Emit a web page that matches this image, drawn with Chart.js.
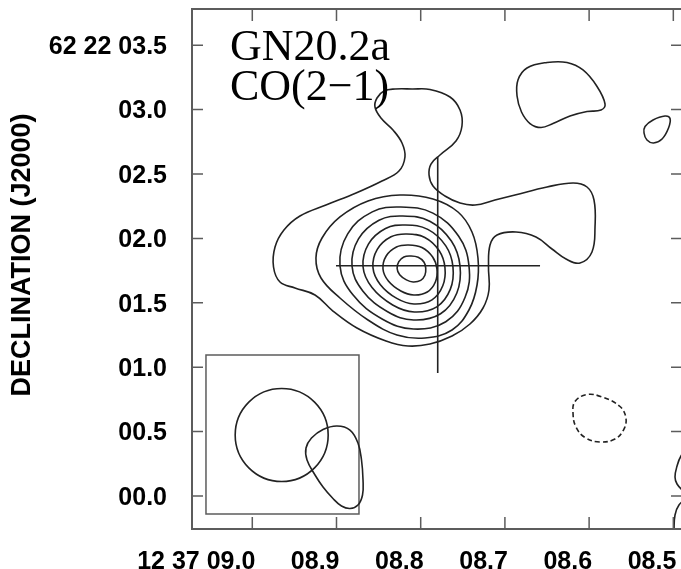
<!DOCTYPE html>
<html>
<head>
<meta charset="utf-8">
<script src="https://cdn.jsdelivr.net/npm/chart.js@4"></script>
<style>
  html, body { margin: 0; padding: 0; background: #fff; overflow: hidden; }
  canvas { display: block; }
</style>
</head>
<body>
<canvas id="map" width="690" height="569"></canvas>
<script>
// axis ticks (RA in seconds of 12h37m, Dec in arcsec of +62d22m)
const raTicks = [9.0, 8.9, 8.8, 8.7, 8.6, 8.5];
const raLabels = ['12 37 09.0', '08.9', '08.8', '08.7', '08.6', '08.5'];
const decTicks = [0, 0.5, 1, 1.5, 2, 2.5, 3, 3.5];
const decLabels = ['00.0', '00.5', '01.0', '01.5', '02.0', '02.5', '03.0', '62 22 03.5'];
const raRange = [8.4897, 9.0716];
const decRange = [-0.2562, 3.7811];

// contours, [ra, dec]
const contourOuter = [
  [8.8436, 3.1444], [8.8305, 3.1599], [8.8103, 3.1599], [8.7890, 3.1561], [8.7652, 3.0978],
  [8.7533, 2.9969], [8.7510, 2.8727], [8.7581, 2.7562], [8.7771, 2.6475], [8.7878, 2.5776],
  [8.7901, 2.4922], [8.7854, 2.4068], [8.7712, 2.3292], [8.7533, 2.2749], [8.7355, 2.2593],
  [8.7118, 2.2981], [8.6880, 2.3370], [8.6500, 2.3991], [8.6191, 2.4301], [8.6025, 2.3991],
  [8.5942, 2.2981], [8.5930, 2.0885], [8.5966, 1.8944], [8.6108, 1.8090], [8.6274, 1.8401],
  [8.6441, 1.9177], [8.6631, 2.0109], [8.6868, 2.0497], [8.7094, 2.0264], [8.7177, 1.9488],
  [8.7195, 1.7780], [8.7189, 1.5994], [8.7260, 1.4596], [8.7415, 1.3354], [8.7628, 1.2422],
  [8.7890, 1.1801], [8.8151, 1.1646], [8.8412, 1.2034], [8.8757, 1.3044], [8.9042, 1.4363],
  [8.9255, 1.5606], [8.9493, 1.6149], [8.9671, 1.6615], [8.9748, 1.7780], [8.9730, 1.9332],
  [8.9624, 2.0652], [8.9434, 2.1739], [8.9125, 2.2593], [8.8768, 2.3525], [8.8460, 2.4457],
  [8.8258, 2.5233], [8.8187, 2.6320], [8.8222, 2.7407], [8.8329, 2.8416], [8.8472, 2.9348],
  [8.8543, 3.0202], [8.8519, 3.0901]
];
const contour2 = [
  [8.9244, 1.8478], [8.9172, 2.0031], [8.8959, 2.1662], [8.8626, 2.2904], [8.8246, 2.3370],
  [8.7854, 2.3059], [8.7557, 2.2050], [8.7391, 2.0497], [8.7320, 1.8478], [8.7331, 1.6382],
  [8.7427, 1.4441], [8.7628, 1.2888], [8.7949, 1.2267], [8.8282, 1.2500], [8.8626, 1.3665],
  [8.8959, 1.5373], [8.9184, 1.6925]
];
const contour3 = [
  [8.8959, 1.7888], [8.8867, 2.0357], [8.8575, 2.2058], [8.8239, 2.2438], [8.7855, 2.1964],
  [8.7549, 2.0163], [8.7427, 1.7888], [8.7473, 1.5427], [8.7702, 1.3533], [8.8086, 1.2966],
  [8.8453, 1.3727], [8.8805, 1.5621]
];
const contour4 = [
  [8.8816, 1.7865], [8.8739, 1.9961], [8.8495, 2.1413], [8.8213, 2.1739], [8.7892, 2.1335],
  [8.7636, 1.9798], [8.7533, 1.7865], [8.7571, 1.5761], [8.7764, 1.4146], [8.8084, 1.3665],
  [8.8393, 1.4309], [8.8688, 1.5924]
];
const contour5 = [
  [8.8685, 1.7795], [8.8621, 1.9558], [8.8418, 2.0769], [8.8183, 2.1040], [8.7916, 2.0699],
  [8.7702, 1.9418], [8.7617, 1.7795], [8.7649, 1.6040], [8.7809, 1.4689], [8.8076, 1.4286],
  [8.8333, 1.4829], [8.8578, 1.6180]
];
const contour6 = [
  [8.8567, 1.7733], [8.8516, 1.9146], [8.8353, 2.0124], [8.8165, 2.0342], [8.7951, 2.0070],
  [8.7780, 1.9037], [8.7712, 1.7733], [8.7738, 1.6320], [8.7866, 1.5233], [8.8080, 1.4907],
  [8.8284, 1.5342], [8.8481, 1.6429]
];
const contour7 = [
  [8.8448, 1.7624], [8.8410, 1.8634], [8.8288, 1.9332], [8.8146, 1.9488], [8.7986, 1.9294],
  [8.7858, 1.8556], [8.7807, 1.7624], [8.7826, 1.6615], [8.7922, 1.5839], [8.8082, 1.5606],
  [8.8236, 1.5916], [8.8384, 1.6693]
];
const contour8 = [
  [8.828, 1.766], [8.826, 1.819], [8.820, 1.856], [8.812, 1.863], [8.803, 1.853], [8.796, 1.815],
  [8.794, 1.766], [8.795, 1.714], [8.800, 1.674], [8.809, 1.662], [8.817, 1.678], [8.825, 1.718]
];
const blobNE = [
  [8.6845, 3.2298], [8.6738, 3.3230], [8.6500, 3.3657], [8.6263, 3.3657], [8.6073, 3.3075],
  [8.5906, 3.1794], [8.5811, 3.0435], [8.5859, 2.9969], [8.6025, 2.9853], [8.6227, 2.9503],
  [8.6429, 2.8921], [8.6571, 2.8610], [8.6702, 2.8921], [8.6803, 2.9814], [8.6856, 3.1056]
];
const blobSmall = [
  [8.5336, 2.8688], [8.5241, 2.9193], [8.5099, 2.9503], [8.5039, 2.9309], [8.5057, 2.8572],
  [8.5134, 2.7717], [8.5235, 2.7407], [8.5313, 2.7640], [8.5348, 2.8183]
];
const negContour = [
  [8.6168, 0.7337], [8.6025, 0.7881], [8.5847, 0.7687], [8.5633, 0.6949], [8.5562, 0.6017],
  [8.5592, 0.5124], [8.5693, 0.4425], [8.5871, 0.4193], [8.6049, 0.4542], [8.6156, 0.5357],
  [8.6191, 0.6405]
];
const edgeA = [[8.4802, 0.3960], [8.4909, 0.3106], [8.4956, 0.2329], [8.4980, 0.1475], [8.4956, 0.0932], [8.4873, 0.0311]];
const edgeB = [[8.4826, -0.0078], [8.4933, -0.0699], [8.4980, -0.1475], [8.4992, -0.2640], [8.4992, -0.3416]];

// cross marking the position, and beam inset
const crossH = [[8.9006, 1.788], [8.6583, 1.788]];
const crossV = [[8.7798, 2.632], [8.7798, 0.955]];
const beamBox = [[9.0550, 1.0947], [8.8733, 1.0947], [8.8733, -0.1398], [9.0550, -0.1398]];
const beamCentre = [[8.9651, 0.4736]];
const beamTail = [
  [8.9350, 0.2795], [8.9362, 0.3727], [8.9297, 0.4503], [8.9160, 0.5163], [8.8994, 0.5435],
  [8.8840, 0.5124], [8.8745, 0.4115], [8.8703, 0.2795], [8.8685, 0.1242], [8.8691, 0.0078],
  [8.8745, -0.0699], [8.8840, -0.0971], [8.8941, -0.0776], [8.9042, -0.0194], [8.9160, 0.0699],
  [8.9255, 0.1630]
];

const INK = '#222';
const FRAME = '#5c5c5c';
const toXY = pts => pts.map(([x, y]) => ({ x, y }));

function contour(pts, extra) {
  return Object.assign({ data: toXY(pts), closed: true, borderColor: INK, borderWidth: 1.6, tension: 0.4, pointRadius: 0 }, extra);
}

const datasets = [
  contour(contourOuter), contour(contour2), contour(contour3), contour(contour4),
  contour(contour5), contour(contour6), contour(contour7), contour(contour8),
  contour(blobNE), contour(blobSmall), contour(beamTail),
  contour(negContour, { borderDash: [5, 3] }),
  contour(edgeA, { closed: false }), contour(edgeB, { closed: false }),
  contour(crossH, { closed: false, tension: 0 }), contour(crossV, { closed: false, tension: 0 }),
  contour(beamBox, { tension: 0, borderColor: FRAME, borderWidth: 1.5 }),
  { data: toXY(beamCentre), showLine: false, pointRadius: 46.5, pointStyle: 'circle',
    pointBackgroundColor: 'rgba(0,0,0,0)', pointBorderColor: INK, pointBorderWidth: 1.6 }
];

// make the line element close itself smoothly, like the radar chart does
const closeLoops = {
  id: 'closeLoops',
  afterDatasetUpdate(chart, args) {
    const ds = chart.data.datasets[args.index];
    const line = args.meta.dataset;
    if (ds.closed && line) { line._loop = true; line._fullLoop = true; }
  }
};

const frame = {
  id: 'frame',
  afterDraw(chart) {
    const { ctx, chartArea: a, scales: { x, y } } = chart;
    ctx.save();
    ctx.strokeStyle = FRAME;
    ctx.lineWidth = 2;
    ctx.strokeRect(a.left, a.top, a.right - a.left, a.bottom - a.top);
    ctx.lineWidth = 1.5;
    ctx.beginPath();
    raTicks.forEach(v => {
      const px = x.getPixelForValue(v);
      ctx.moveTo(px, a.bottom); ctx.lineTo(px, a.bottom - 12);
      ctx.moveTo(px, a.top); ctx.lineTo(px, a.top + 12);
    });
    decTicks.forEach(v => {
      const py = y.getPixelForValue(v);
      ctx.moveTo(a.left, py); ctx.lineTo(a.left + 11, py);
      ctx.moveTo(a.right, py); ctx.lineTo(a.right - 11, py);
    });
    ctx.stroke();

    ctx.fillStyle = '#000';
    ctx.font = '44px "Liberation Serif", "Times New Roman", serif';
    ctx.textAlign = 'left';
    ctx.textBaseline = 'alphabetic';
    ctx.fillText('GN20.2a', 230, 60);
    ctx.fillText('CO(2\u22121)', 230, 100);

    ctx.font = 'bold 27px "Liberation Sans", Arial, sans-serif';
    ctx.translate(23, 255);
    ctx.rotate(-Math.PI / 2);
    ctx.textAlign = 'center';
    ctx.textBaseline = 'middle';
    ctx.fillText('DECLINATION (J2000)', 0, 0);
    ctx.restore();
  }
};

const tickFont = { family: '"Liberation Sans", Arial, sans-serif', size: 25, weight: 'bold' };

// keep the plot box fixed: no extra room for overhanging labels
function fixBox(size) {
  return s => {
    if (s.isHorizontal()) s.height = size; else s.width = size;
    s.paddingLeft = s.paddingRight = s.paddingTop = s.paddingBottom = 0;
  };
}

new Chart(document.getElementById('map'), {
  type: 'line',
  data: { datasets },
  options: {
    responsive: false,
    animation: false,
    events: [],
    layout: { autoPadding: false, padding: { top: 9, right: 8, left: 0, bottom: 0 } },
    plugins: { legend: { display: false }, tooltip: { enabled: false } },
    scales: {
      x: {
        type: 'linear', reverse: true, min: raRange[0], max: raRange[1],
        afterFit: fixBox(40),
        afterBuildTicks: s => { s.ticks = raTicks.map(v => ({ value: v })); },
        grid: { display: false }, border: { display: false },
        ticks: { callback: (v, i) => raLabels[i], align: 'end', labelOffset: 3, padding: 10,
                 font: tickFont, color: '#000', maxRotation: 0, autoSkip: false }
      },
      y: {
        type: 'linear', min: decRange[0], max: decRange[1],
        afterFit: fixBox(192),
        afterBuildTicks: s => { s.ticks = decTicks.map(v => ({ value: v })); },
        grid: { display: false }, border: { display: false },
        ticks: { callback: (v, i) => decLabels[i], labelOffset: 2, padding: 17,
                 font: tickFont, color: '#000', autoSkip: false }
      }
    }
  },
  plugins: [closeLoops, frame]
});
</script>
</body>
</html>
